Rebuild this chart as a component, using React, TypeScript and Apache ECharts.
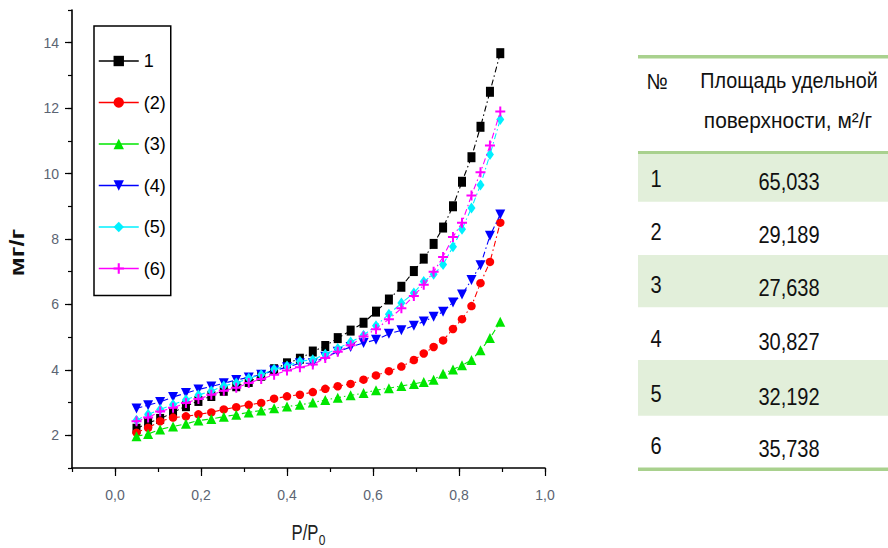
import React, { useEffect, useRef } from 'react';
import * as echarts from 'echarts';

// ---------- DATA ----------
const pressure = [0.05, 0.077, 0.105, 0.135, 0.165, 0.194, 0.224, 0.253, 0.282, 0.311, 0.34, 0.37, 0.4, 0.43, 0.46, 0.489, 0.518, 0.548, 0.578, 0.607, 0.637, 0.666, 0.695, 0.718, 0.741, 0.763, 0.786, 0.807, 0.829, 0.85, 0.872, 0.896];

const sample1 = [2.2, 2.38, 2.5, 2.7, 2.89, 3.05, 3.2, 3.36, 3.5, 3.63, 3.82, 4.02, 4.2, 4.34, 4.56, 4.73, 4.97, 5.2, 5.44, 5.78, 6.15, 6.54, 7.02, 7.4, 7.85, 8.35, 9.0, 9.75, 10.5, 11.43, 12.5, 13.68];
const sample2 = [2.08, 2.23, 2.43, 2.54, 2.58, 2.64, 2.7, 2.79, 2.86, 2.93, 2.99, 3.12, 3.19, 3.24, 3.32, 3.42, 3.5, 3.57, 3.7, 3.83, 3.96, 4.1, 4.3, 4.5, 4.7, 4.9, 5.25, 5.55, 5.95, 6.65, 7.3, 8.5];
const sample3 = [1.97, 2.04, 2.18, 2.27, 2.35, 2.45, 2.5, 2.57, 2.63, 2.7, 2.76, 2.83, 2.88, 2.93, 3.0, 3.08, 3.15, 3.22, 3.29, 3.38, 3.44, 3.51, 3.57, 3.63, 3.7, 3.88, 4.01, 4.14, 4.3, 4.6, 4.97, 5.47];
const sample4 = [2.82, 2.92, 3.02, 3.17, 3.29, 3.4, 3.49, 3.59, 3.69, 3.77, 3.85, 3.98, 4.08, 4.2, 4.2, 4.4, 4.55, 4.7, 4.82, 4.92, 5.1, 5.21, 5.35, 5.48, 5.62, 5.78, 6.06, 6.3, 6.75, 7.2, 8.1, 8.75];
const sample5 = [2.46, 2.64, 2.79, 2.94, 3.09, 3.23, 3.35, 3.51, 3.6, 3.74, 3.85, 4.02, 4.12, 4.26, 4.31, 4.48, 4.65, 4.85, 5.06, 5.35, 5.7, 6.04, 6.35, 6.7, 6.92, 7.22, 7.76, 8.3, 8.95, 9.65, 10.58, 11.65];
const sample6 = [2.43, 2.54, 2.73, 2.84, 2.99, 3.11, 3.24, 3.36, 3.45, 3.6, 3.72, 3.85, 3.98, 4.08, 4.16, 4.36, 4.55, 4.75, 5.02, 5.24, 5.55, 5.88, 6.26, 6.6, 7.0, 7.45, 8.06, 8.5, 9.33, 10.04, 10.86, 11.9];

const legendNames = ['1', '(2)', '(3)', '(4)', '(5)', '(6)'];
const xAxisTitle = 'P/P';
const xAxisTitleSub = '0';
const yAxisTitle = 'мг/г';

const tableHeaderNo = '№';
const tableHeaderLines = ['Площадь удельной', 'поверхности, м²/г'];
const tableIds = ['1', '2', '3', '4', '5', '6'];
const tableAreas = ['65,033', '29,189', '27,638', '30,827', '32,192', '35,738'];

// ---------- STYLE ----------
const SANS = "'Liberation Sans', Arial, sans-serif";
const PLUS = 'path://M4,0H6V4H10V6H6V10H4V6H0V4H4Z';
const seriesStyles = [
  { color: '#000000', symbol: 'rect', size: [8, 10], rotate: 0 },
  { color: '#ff0000', symbol: 'circle', size: 8.5, rotate: 0 },
  { color: '#00e600', symbol: 'triangle', size: [10, 10], rotate: 0 },
  { color: '#0000ff', symbol: 'triangle', size: [10, 10], rotate: 180 },
  { color: '#00f0ff', symbol: 'diamond', size: [8, 11], rotate: 0 },
  { color: '#ff00ff', symbol: PLUS, size: 10, rotate: 0 },
];
const GREEN_LINE = '#a9d18e';
const GREEN_FILL = '#e2efda';
const TICK_COLOR = '#5b6472';

const allSamples = [sample1, sample2, sample3, sample4, sample5, sample6];

export default function App() {
  const ref = useRef<HTMLDivElement>(null);

  useEffect(() => {
    if (!ref.current) return;
    const chart = echarts.init(ref.current, undefined, { renderer: 'svg' });

    const series = allSamples.map((vals, i) => ({
      name: legendNames[i],
      type: 'line',
      data: pressure.map((p, j) => [p, vals[j]]),
      symbol: seriesStyles[i].symbol,
      symbolSize: seriesStyles[i].size,
      symbolRotate: seriesStyles[i].rotate,
      showAllSymbol: true,
      itemStyle: { color: seriesStyles[i].color },
      lineStyle: { color: seriesStyles[i].color, width: 1.1, type: [6, 3, 1.5, 3] },
      emphasis: { disabled: true },
      z: 2 + i,
    }));

    const rowBounds = [154, 201.7, 255, 307.3, 360, 415.7, 468.3];
    const idY = [179, 232, 285, 339, 394, 445.5];
    const tableGraphics: any[] = [];
    for (let i = 0; i < 6; i++) {
      if (i % 2 === 0) {
        tableGraphics.push({
          type: 'rect',
          shape: { x: 638, y: rowBounds[i], width: 250, height: rowBounds[i + 1] - rowBounds[i] },
          style: { fill: GREEN_FILL },
          silent: true,
        });
      }
    }
    tableGraphics.push(
      { type: 'rect', shape: { x: 638, y: 55, width: 250, height: 3.5 }, style: { fill: GREEN_LINE } },
      { type: 'rect', shape: { x: 638, y: 151, width: 250, height: 3 }, style: { fill: GREEN_LINE } },
      { type: 'rect', shape: { x: 638, y: 467.5, width: 250, height: 3.5 }, style: { fill: GREEN_LINE } },
    );
    const txt = (text: string, x: number, y: number, size: number, sx: number, extra: any = {}) => ({
      type: 'text',
      x,
      y,
      scaleX: sx,
      style: {
        text,
        fontSize: size,
        fontFamily: SANS,
        fill: '#111',
        align: 'center',
        verticalAlign: 'middle',
        textAlign: 'center',
        textVerticalAlign: 'middle',
        ...extra,
      },
      silent: true,
    });
    tableGraphics.push(txt(tableHeaderNo, 657, 81, 22, 0.9));
    tableGraphics.push(txt(tableHeaderLines[0], 789, 80, 22, 0.9));
    tableGraphics.push(txt(tableHeaderLines[1], 788, 121, 22, 0.95));
    tableIds.forEach((id, i) => {
      tableGraphics.push(txt(id, 656, idY[i], 23, 0.87));
      tableGraphics.push(txt(tableAreas[i], 789, idY[i] + 3, 23, 0.87));
    });

    const axisGraphics: any[] = [
      {
        type: 'text',
        x: 17.5,
        y: 252.5,
        rotation: Math.PI / 2,
        scaleX: 1.28,
        style: {
          text: yAxisTitle,
          fontSize: 20,
          fontWeight: 'bold',
          fontFamily: SANS,
          fill: '#111',
          align: 'center',
          verticalAlign: 'middle',
          textAlign: 'center',
          textVerticalAlign: 'middle',
        },
        silent: true,
      },
      txt(xAxisTitle, 305, 532, 22, 0.76, { fill: '#222' }),
      txt(xAxisTitleSub, 322, 540, 15, 0.8, { fill: '#222' }),
    ];

    const xLabelFmt = (v: number) => {
      const k = Math.round(v * 10);
      if (k < 0 || k % 2 !== 0) return '';
      return (k / 10).toFixed(1).replace('.', ',');
    };
    const yLabelFmt = (v: number) => {
      const k = Math.round(v);
      return k % 2 === 0 ? String(k) : '';
    };

    chart.setOption({
      animation: false,
      backgroundColor: '#ffffff',
      grid: { left: 72, top: 10, right: 343, bottom: 80, containLabel: false },
      legend: {
        show: true,
        orient: 'vertical',
        left: 94,
        top: 26,
        data: legendNames,
        itemWidth: 40,
        itemHeight: 13,
        itemGap: 23.5,
        padding: [26, 5, 18, 4],
        borderColor: '#000',
        borderWidth: 1.5,
        selectedMode: false,
        textStyle: { fontSize: 18, color: '#000', fontFamily: SANS },
        lineStyle: { type: 'solid', width: 1.5 },
      },
      xAxis: [
        {
          type: 'value',
          min: -0.1,
          max: 1.0,
          interval: 0.1,
          position: 'bottom',
          axisLine: { show: true, onZero: false, lineStyle: { color: '#000', width: 1.6 } },
          axisTick: { show: true, length: 4, lineStyle: { color: '#000', width: 1.2 } },
          axisLabel: { formatter: xLabelFmt, margin: 20, fontSize: 14, color: TICK_COLOR, fontFamily: SANS },
          splitLine: { show: false },
        },
        {
          type: 'value',
          min: -0.1,
          max: 1.0,
          position: 'bottom',
          axisLine: { show: false, onZero: false },
          axisTick: { show: true, length: 8, customValues: [0, 0.2, 0.4, 0.6, 0.8, 1.0], lineStyle: { color: '#000', width: 1.2 } },
          axisLabel: { show: false },
          splitLine: { show: false },
        },
      ],
      yAxis: [
        {
          type: 'value',
          min: 1,
          max: 15,
          interval: 1,
          position: 'left',
          axisLine: { show: true, onZero: false, lineStyle: { color: '#000', width: 1.6 } },
          axisTick: { show: true, length: 4, lineStyle: { color: '#000', width: 1.2 } },
          axisLabel: { formatter: yLabelFmt, margin: 13, fontSize: 14, color: TICK_COLOR, fontFamily: SANS },
          splitLine: { show: false },
        },
        {
          type: 'value',
          min: 1,
          max: 15,
          position: 'left',
          axisLine: { show: false, onZero: false },
          axisTick: { show: true, length: 7, customValues: [2, 4, 6, 8, 10, 12, 14], lineStyle: { color: '#000', width: 1.2 } },
          axisLabel: { show: false },
          splitLine: { show: false },
        },
      ],
      series,
      graphic: [...tableGraphics, ...axisGraphics],
    });

    return () => chart.dispose();
  }, []);

  return (
    <div
      ref={ref}
      style={{ position: 'fixed', left: 0, top: 0, width: 888, height: 548, background: '#fff' }}
    />
  );
}
